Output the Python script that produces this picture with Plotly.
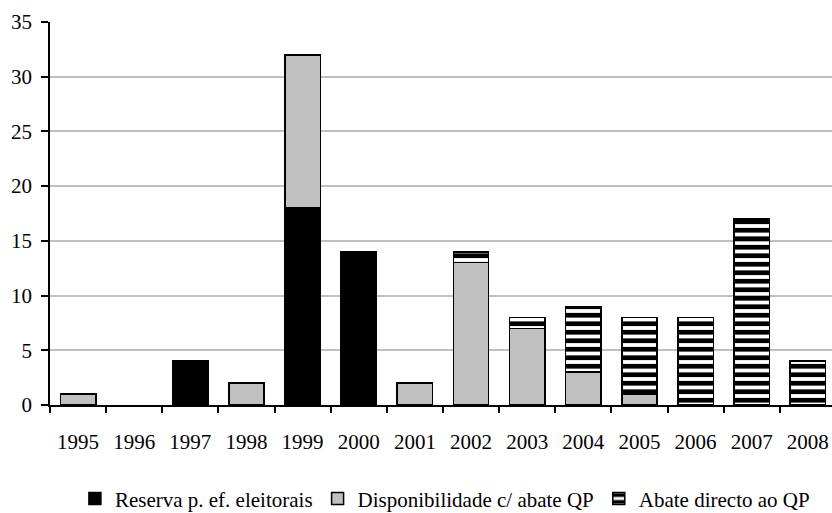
import plotly.graph_objects as go

years = ["1995", "1996", "1997", "1998", "1999", "2000", "2001",
         "2002", "2003", "2004", "2005", "2006", "2007", "2008"]
reserva = [0, 0, 4, 0, 18, 14, 0, 0, 0, 0, 0, 0, 0, 0]
disponibilidade = [1, 0, 0, 2, 14, 0, 2, 13, 7, 3, 1, 0, 0, 0]
abate = [0, 0, 0, 0, 0, 0, 0, 1, 1, 6, 7, 8, 17, 4]
y_ticks = [0, 5, 10, 15, 20, 25, 30, 35]

def nz(v):
    return [x if x != 0 else None for x in v]

FONT = "'Liberation Serif', 'Times New Roman', serif"
FS = 21
fig = go.Figure()
fig.add_trace(go.Bar(x=years, y=nz(reserva), name="Reserva p. ef. eleitorais",
                     marker=dict(color="black", line=dict(color="black", width=1.5))))
fig.add_trace(go.Bar(x=years, y=nz(disponibilidade), name="Disponibilidade c/ abate QP",
                     marker=dict(color="#c0c0c0", line=dict(color="black", width=1.5))))
fig.add_trace(go.Bar(x=years, y=nz(abate), name="Abate directo ao QP",
                     marker=dict(color="white", line=dict(color="black", width=1.5),
                                 pattern=dict(shape="-", fgcolor="black", fgopacity=1,
                                              size=8.5, solidity=0.55, fillmode="replace"))))

fig.update_layout(
    barmode="stack", bargap=0.37,
    width=832, height=513,
    margin=dict(l=50, r=0, t=22, b=108, autoexpand=False),
    plot_bgcolor="white", paper_bgcolor="white",
    font=dict(family=FONT, size=FS, color="black"),
    legend=dict(orientation="h", x=0.505, xanchor="center", y=-0.245, yanchor="middle",
                font=dict(family=FONT, size=FS), itemwidth=30, traceorder="normal",
                tracegroupgap=0),
    showlegend=True,
)
fig.update_xaxes(range=[-0.5, 13.43], showline=True, linecolor="black", linewidth=1.5,
                 ticks="outside", tickson="boundaries", ticklen=6, tickcolor="black", tickwidth=1.5,
                 showgrid=False, ticklabelstandoff=17, automargin=False,
                 tickfont=dict(family=FONT, size=FS))
fig.update_yaxes(range=[0, 35], tickvals=y_ticks, showline=True, linecolor="black", linewidth=1.5,
                 ticks="outside", ticklen=7, tickcolor="black", tickwidth=1.5,
                 showgrid=True, gridcolor="#c0c0c0", gridwidth=1.5, zeroline=False,
                 ticklabelstandoff=5, automargin=False, tickfont=dict(family=FONT, size=FS))

fig.write_html("out.html", config={"displayModeBar": False},
               post_script="document.body.style.margin='0';document.body.style.overflow='hidden';")
